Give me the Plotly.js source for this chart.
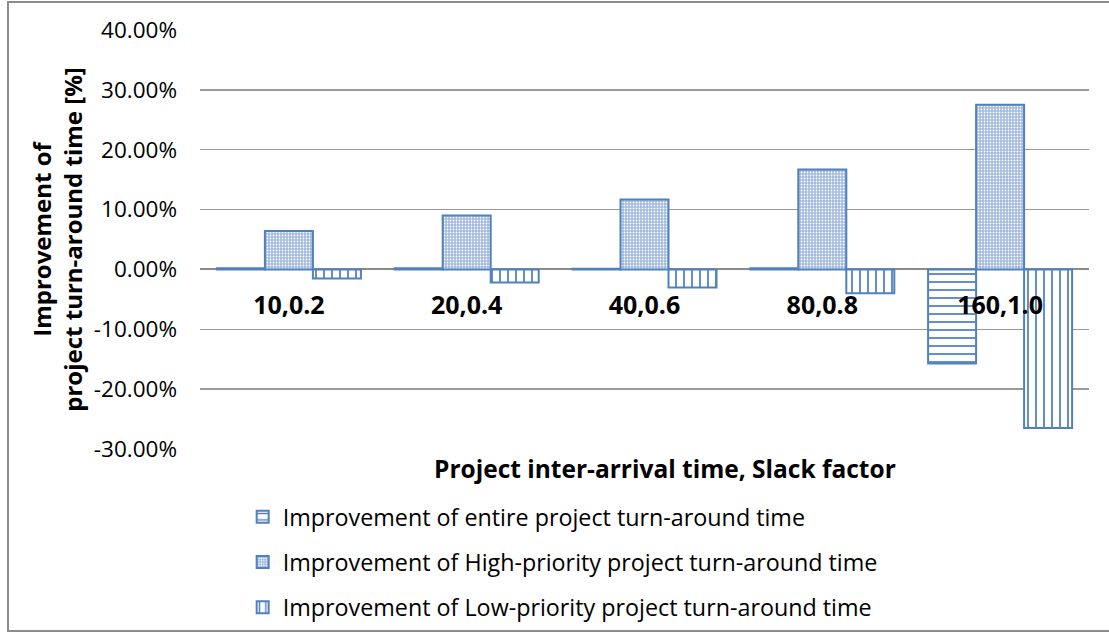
<!DOCTYPE html>
<html>
<head>
<meta charset="utf-8">
<script src="https://cdn.plot.ly/plotly-3.0.1.min.js"></script>
<style>
  html, body { margin: 0; padding: 0; background: #fff; }
  #chart { width: 1109px; height: 633px; }
</style>
</head>
<body>
<div id="chart"></div>
<script>
// Scenarios: project inter-arrival time, slack factor
const categories = ['10,0.2', '20,0.4', '40,0.6', '80,0.8', '160,1.0'];

// Improvement values (fraction of 1)
const entireProject = [0.002, 0.002, 0.001, 0.002, -0.157];
const highPriority  = [0.064, 0.090, 0.117, 0.167, 0.275];
const lowPriority   = [-0.015, -0.022, -0.030, -0.040, -0.265];

const seriesNames = [
  'Improvement of entire project turn-around time',
  'Improvement of High-priority project turn-around time',
  'Improvement of Low-priority project turn-around time'
];

const yTickVals = [-0.3, -0.2, -0.1, 0, 0.1, 0.2, 0.3, 0.4];
// plain hyphen for negatives, two decimals
const yTickText = yTickVals.map(v => (v * 100).toFixed(2) + '%');

const BLUE = '#4F81BD';
const FONT = '"Open Sans", Lato, sans-serif';

const traces = [
  {
    type: 'bar', name: seriesNames[0], x: categories, y: entireProject,
    legendgroup: 'a',
    marker: {
      color: BLUE,
      line: { color: BLUE, width: 2 },
      pattern: { shape: '-', bgcolor: '#ffffff', fgcolor: BLUE, size: 8, solidity: 0.22 }
    }
  },
  {
    type: 'bar', name: seriesNames[1], x: categories, y: highPriority,
    legendgroup: 'b',
    marker: {
      color: BLUE,
      line: { color: BLUE, width: 2 },
      pattern: { shape: '.', bgcolor: '#9fb8dc', fgcolor: '#ffffff', size: 3, solidity: 0.3 }
    }
  },
  {
    type: 'bar', name: seriesNames[2], x: categories, y: lowPriority,
    legendgroup: 'c',
    marker: {
      color: BLUE,
      line: { color: BLUE, width: 2 },
      pattern: { shape: '|', bgcolor: '#ffffff', fgcolor: BLUE, size: 8, solidity: 0.22 }
    }
  }
];

const layout = {
  width: 1109,
  height: 633,
  margin: { l: 200, r: 20, t: 30, b: 184, autoexpand: false },
  paper_bgcolor: '#ffffff',
  plot_bgcolor: '#ffffff',
  font: { family: FONT, size: 21, color: '#000' },
  barmode: 'group',
  bargap: 0.19,
  bargroupgap: 0,
  showlegend: true,
  legend: {
    x: 0.048, y: -0.11, xanchor: 'left', yanchor: 'top',
    orientation: 'v',
    traceorder: 'grouped',
    tracegroupgap: 12,
    font: { family: FONT, size: 23.3, color: '#000' },
    itemwidth: 30,
    bgcolor: 'rgba(0,0,0,0)'
  },
  xaxis: {
    type: 'category',
    anchor: 'free',
    position: 30 / 70,
    showgrid: false,
    showline: false,
    zeroline: false,
    ticks: '',
    ticklabelstandoff: 19,
    tickfont: { family: FONT, size: 25, color: '#000', weight: 'bold' }
  },
  yaxis: {
    range: [-0.3, 0.4],
    tickvals: yTickVals,
    ticktext: yTickText,
    showgrid: true,
    gridcolor: '#9a9a9a',
    gridwidth: 1.5,
    zeroline: true,
    zerolinecolor: '#8a8a8a',
    zerolinewidth: 2,
    showline: false,
    ticks: '',
    ticklabelstandoff: 22,
    tickfont: { family: FONT, size: 22.5, color: '#000' },
    title: {
      text: 'Improvement of<br>project turn-around time [%]',
      font: { family: FONT, size: 24, color: '#000', weight: 'bold' },
      standoff: 4
    }
  },
  annotations: [
    {
      text: 'Project inter-arrival time, Slack factor',
      xref: 'paper', yref: 'paper',
      x: 0.523, y: -19 / 419,
      xanchor: 'center', yanchor: 'middle',
      showarrow: false,
      font: { family: FONT, size: 24.5, color: '#000', weight: 'bold' }
    }
  ],
  shapes: [
    {
      type: 'rect', xref: 'paper', yref: 'paper',
      x0: -192 / 889, x1: 920 / 889, y0: -182 / 419, y1: 447 / 419,
      line: { color: '#8c8c8c', width: 2 },
      fillcolor: 'rgba(0,0,0,0)',
      layer: 'below'
    }
  ]
};

Plotly.newPlot('chart', traces, layout, { displayModeBar: false, staticPlot: true });
</script>
</body>
</html>
